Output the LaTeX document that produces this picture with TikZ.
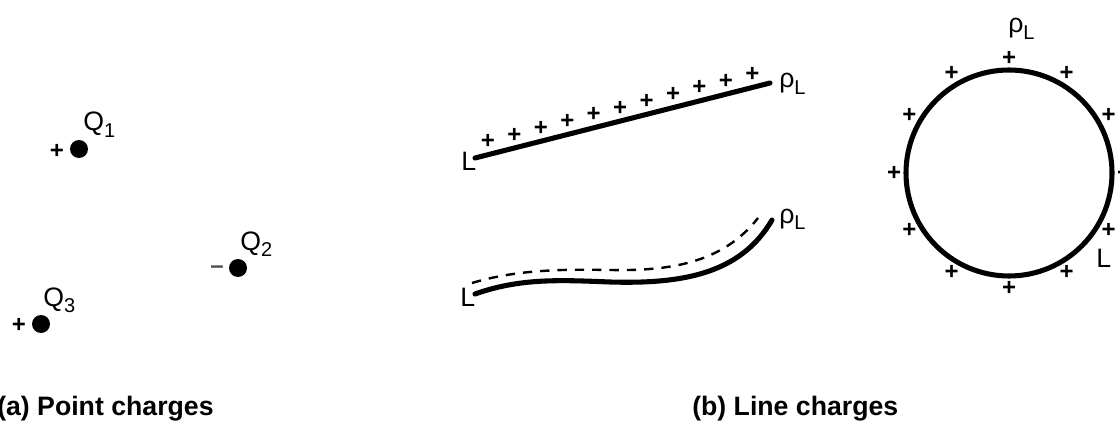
\documentclass[tikz,border=0pt]{standalone}
\usepackage{fontspec}
\setmainfont{Liberation Sans}
\usetikzlibrary{calc}

\newcommand{\lsub}[1]{\raisebox{-0.45ex}{\fontsize{15}{15}\selectfont #1}}

\begin{document}
\begin{tikzpicture}[
  x=0.75pt, y=-0.75pt,
  lbl/.style={font=\fontsize{20}{20}\selectfont, inner sep=0pt, anchor=base west},
  pl/.style={font=\bfseries\fontsize{18}{18}\selectfont, inner sep=0pt},
  dot/.style={circle, fill=black, inner sep=0pt, minimum size=13.5pt},
  capt/.style={font=\bfseries\fontsize{20}{20}\selectfont, inner sep=0pt, anchor=base west},
  wire/.style={line width=3.8pt, line cap=round},
  dsh/.style={line width=1.8pt, dash pattern=on 7pt off 6pt},
]
\useasboundingbox (0,0) rectangle (1120,424);

% (a) point charges
\node[dot] (q1) at (79,149) {};
\node[dot] (q2) at (238,268) {};
\node[dot] (q3) at (41,324) {};
\node[pl] (s1) at (57,151) {+};
\node[pl, text=black!70] (s2) at (217,270) {--};
\node[pl] (s3) at (19,325) {+};
\node[lbl] (lq1) at (83,131) {Q\lsub{1}};
\node[lbl] (lq2) at (240,250) {Q\lsub{2}};
\node[lbl] (lq3) at (43,306) {Q\lsub{3}};

% (b) straight line charge
\coordinate (a0) at (475,158);
\coordinate (a1) at (770,83);
\draw[wire] (a0) -- (a1);
\foreach \t in {0,...,10}
  \node[pl] at ($(a0)!0.044+0.0896*\t!(a1)+(0,-13)$) {+};
\node[lbl] (la) at (461,171) {L};
\node[lbl] (ra) at (779,88) {ρ\lsub{L}};

% (b) curved line charge
\coordinate (b0) at (475,294);
\coordinate (b1) at (772,220);
\draw[wire] (b0) .. controls (520,278) and (560,280) .. (610,282)
  .. controls (680,284) and (740,275) .. (b1);
\draw[dsh] (472,283) .. controls (515,270) and (560,269) .. (610,270)
  .. controls (668,271) and (722,264) .. (758,218);
\node[lbl] (lb) at (460,306) {L};
\node[lbl] (rb) at (779,223) {ρ\lsub{L}};

% (b) ring charge
\coordinate (ring) at (1009,173);
\draw[wire] (ring) circle[radius=103];
\foreach \a in {0,30,...,330}
  \node[pl] at ($(ring)+(\a:115)$) {+};
\node[lbl] (rc) at (1008,33) {ρ\lsub{L}};
\node[lbl] (lc) at (1096,267) {L};

% captions
\node[capt] (ca) at (-3,415) {(a) Point charges};
\node[capt] (cb) at (692,415) {(b) Line charges};
\end{tikzpicture}
\end{document}
